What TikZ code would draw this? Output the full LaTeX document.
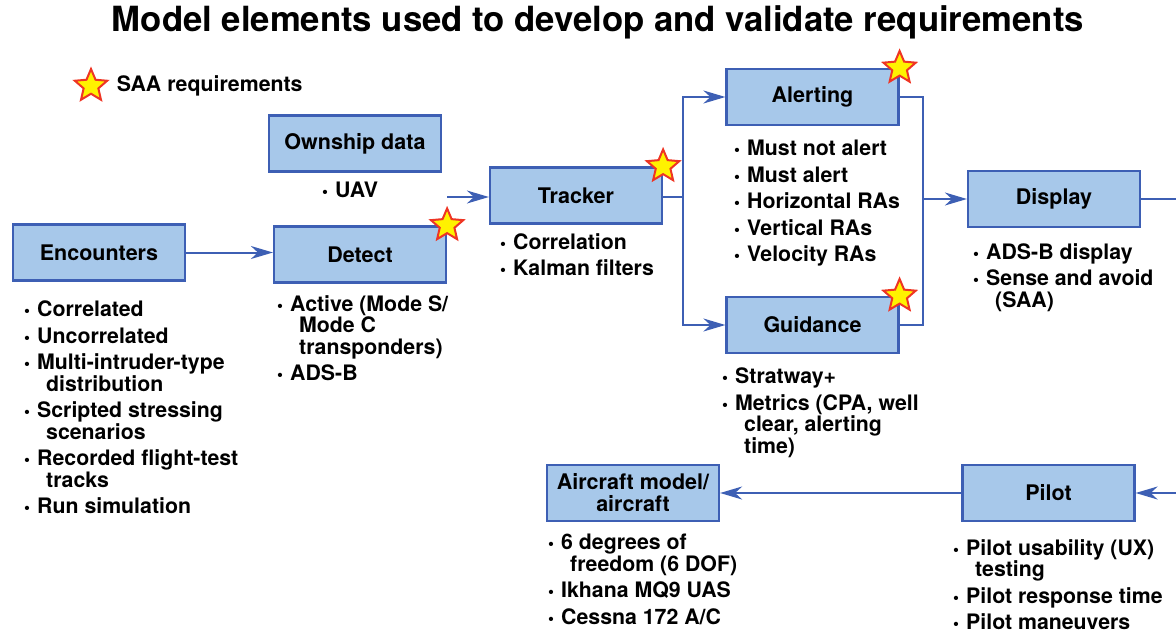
\documentclass[tikz,border=0pt]{standalone}
\usepackage{fontspec}
\setmainfont{TeX Gyre Heros}
\usetikzlibrary{arrows.meta,positioning,shapes.geometric}

\definecolor{boxfill}{HTML}{A7C8EA}
\definecolor{boxline}{HTML}{3D5FB4}
\definecolor{starred}{HTML}{EE3524}
\definecolor{staryel}{HTML}{FFF200}

\newcommand{\itm}{\makebox[13pt][l]{\raisebox{0pt}{\fontsize{17}{17}\selectfont •}}}
\newcommand{\cnt}{\hspace*{22pt}}

\begin{document}
\begin{tikzpicture}[
    x=1pt, y=-1pt,
    box/.style={draw=boxline, fill=boxfill, line width=2.2pt, minimum width=172pt,
                minimum height=56pt, align=center, inner sep=2pt,
                font=\fontsize{21.5}{22}\selectfont\bfseries},
    notes/.style={anchor=north west, inner sep=0pt, align=left,
                  font=\fontsize{21.3}{21.5}\selectfont\bfseries},
    req/.style={star, star points=5, star point ratio=2.2, draw=starred, fill=staryel,
                line width=2pt, minimum size=34pt, inner sep=0pt},
    arrow/.style={draw=boxline, line width=2pt, -{Stealth[length=22pt,width=13pt,inset=7pt]}},
    link/.style={draw=boxline, line width=2pt},
]
\useasboundingbox (0,0) rectangle (1176,634);

% ── Title and legend ──
\node[font=\fontsize{34.7}{36}\selectfont\bfseries] (title) at (598,22)
    {Model elements used to develop and validate requirements};
\node[req] (keystar) at (91,86) {};
\node[right=14pt of keystar, inner sep=0pt, font=\fontsize{21.3}{21.5}\selectfont\bfseries] (keytext) {SAA requirements};

% ── Boxes ──
\node[box] (own)   at (355,143.5) {Ownship data};
\node[box] (enc)   at (99,252.5)  {Encounters};
\node[box] (det)   at (360,254.5) {Detect};
\node[box] (trk)   at (576,195.5) {Tracker};
\node[box] (alrt)  at (812.5,97)  {Alerting};
\node[box] (guid)  at (812.5,325) {Guidance};
\node[box] (disp)  at (1054,199)  {Display};
\node[box] (acm)   at (633,493)   {Aircraft model/\\aircraft};
\node[box] (pilot) at (1048.5,493) {Pilot};

% ── SAA stars ──
\node[req] (detstar)  at (det.north east)  {};
\node[req] (trkstar)  at (trk.north east)  {};
\node[req] (alrtstar) at (alrt.north east) {};
\node[req] (guidstar) at (guid.north east) {};

% ── Bullet lists ──
\node[notes] (ownnotes) at (322,182) {\itm UAV};
\node[notes] (encnotes) at (24,301) {\itm Correlated\\[5pt]
    \itm Uncorrelated\\[5pt]
    \itm Multi-intruder-type\\ \cnt distribution\\[5pt]
    \itm Scripted stressing\\ \cnt scenarios\\[5pt]
    \itm Recorded flight-test\\ \cnt tracks\\[5pt]
    \itm Run simulation};
\node[notes] (detnotes) at (277,295) {\itm Active (Mode S/\\ \cnt Mode C\\ \cnt transponders)\\[5pt]
    \itm ADS-B};
\node[notes] (trknotes) at (500,233) {\itm Correlation\\[5pt] \itm Kalman filters};
\node[notes] (alrtnotes) at (734,140) {\itm Must not alert\\[5pt]
    \itm Must alert\\[5pt]
    \itm Horizontal RAs\\[5pt]
    \itm Vertical RAs\\[5pt]
    \itm Velocity RAs};
\node[notes] (guidnotes) at (722,368) {\itm Stratway+\\[5pt]
    \itm Metrics (CPA, well\\ \cnt clear, alerting\\ \cnt time)};
\node[notes] (dispnotes) at (973,243) {\itm ADS-B display\\[5pt]
    \itm Sense and avoid\\ \cnt (SAA)};
\node[notes] (acmnotes) at (548,534) {\itm 6 degrees of\\ \cnt freedom (6 DOF)\\[5pt]
    \itm Ikhana MQ9 UAS\\[5pt]
    \itm Cessna 172 A/C};
\node[notes] (pilotnotes) at (953,539) {\itm Pilot usability (UX)\\ \cnt testing\\[5pt]
    \itm Pilot response time\\[5pt]
    \itm Pilot maneuvers};

% ── Connectors ──
\coordinate (trkin) at (447,197);
\coordinate (split) at (683,197);
\coordinate (merge) at (923,199);
\coordinate (dispout) at (1176,199);
\coordinate (pilotin) at (1176,493);

\draw[arrow] (enc.east) -- (enc.east -| det.west);
\draw[arrow] (trkin) -- (trkin -| trk.west);
\draw[link] (trk.east |- split) -- (split);
\draw[arrow] (split) |- (alrt.west);
\draw[arrow] (split) |- (guid.west);
\draw[link] (alrt.east) -| (merge);
\draw[link] (guid.east) -| (merge);
\draw[arrow] (merge) -- (merge -| disp.west);
\draw[link] (disp.east |- dispout) -- (dispout);
\draw[arrow] (pilotin) -- (pilot.east);
\draw[arrow] (pilot.west) -- (acm.east);

\end{tikzpicture}
\end{document}
